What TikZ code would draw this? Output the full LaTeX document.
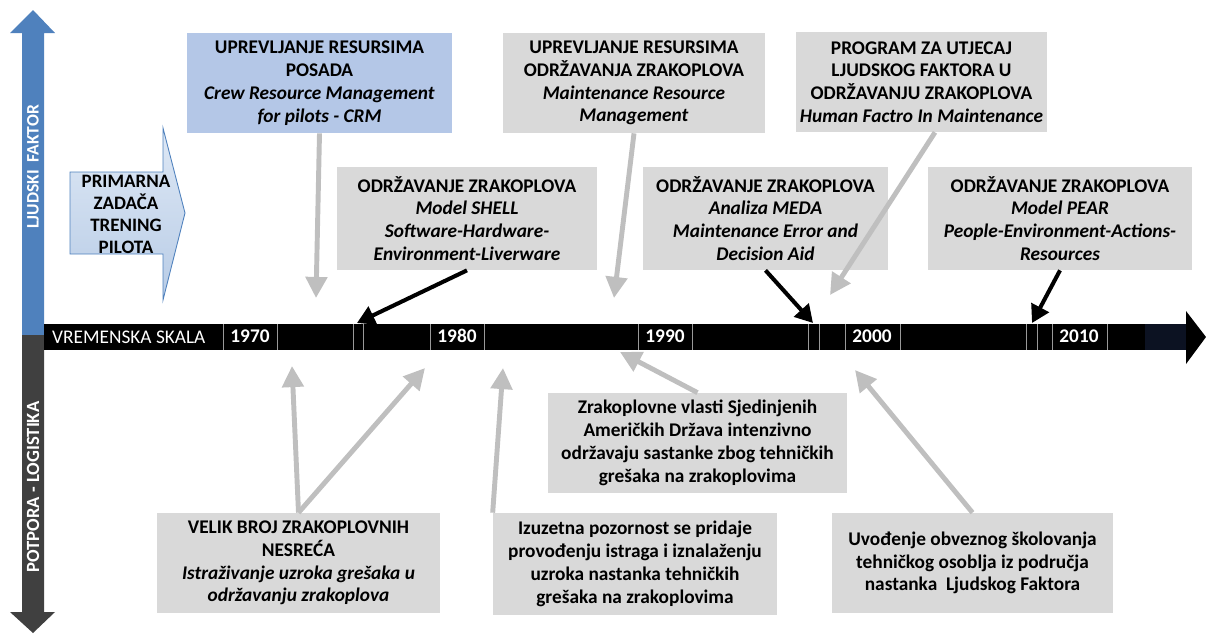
\documentclass[tikz,border=0pt]{standalone}
\usepackage{fontspec}
\setmainfont{Carlito}[Numbers=Lining]
\usetikzlibrary{arrows.meta}
\definecolor{boxgrey}{RGB}{217,217,217}
\definecolor{crmblue}{RGB}{180,199,231}
\definecolor{arrowgrey}{RGB}{191,191,191}
\definecolor{axisblue}{RGB}{79,129,189}
\definecolor{axisdark}{RGB}{64,64,64}
\definecolor{primtop}{RGB}{222,232,245}
\definecolor{primbottom}{RGB}{184,204,230}
\definecolor{barend}{RGB}{12,18,34}

\tikzset{
  greybox/.style={fill=boxgrey, align=center, inner sep=2pt,
    font=\bfseries\fontsize{11}{13}\selectfont},
  bluebox/.style={greybox, fill=crmblue},
  greyarrow/.style={draw=arrowgrey, line width=2.8pt,
    -{Triangle[length=12pt,width=12pt]}},
  blackarrow/.style={draw=black, line width=2.3pt,
    -{Triangle[length=10pt,width=11pt]}},
  yearlabel/.style={text=white, text height=1.6ex, text depth=0.2ex,
    font=\bfseries\fontsize{11}{12}\selectfont},
  divider/.style={draw=black!40, line width=0.5pt}
}

\begin{document}
\begin{tikzpicture}[x=0.02cm, y=-0.02cm]
	\useasboundingbox (0,0) rectangle (1206,633);

	% vertical axis
	\fill[axisblue] (22,337) -- (22,33) -- (10,33) -- (33,10) -- (55,33) -- (44,33) -- (44,337) -- cycle;
	\fill[axisdark] (22,335) -- (22,612) -- (10,612) -- (33,633) -- (55,612) -- (44,612) -- (44,335) -- cycle;
	\node[rotate=90, text=white, font=\bfseries\fontsize{10}{12}\selectfont] (hf) at (33,167) {LJUDSKI~~FAKTOR};
	\node[rotate=90, text=white, font=\bfseries\fontsize{10.6}{12}\selectfont] (pl) at (33,487) {POTPORA - LOGISTIKA};

	% time scale
	\fill[black] (44,324) rectangle (1188,350);
	\fill[barend] (1145,324) rectangle (1188,350);
	\fill[black] (1186,311) -- (1206,337) -- (1186,364) -- cycle;
	\foreach \xx in {223,277,353,363,430,484,638,692,808,819,845,900,1026,1037,1052,1107}{
		\draw[divider] (\xx,324) -- (\xx,350);
	}
	\node[anchor=west, text=white, font=\fontsize{11}{12}\selectfont] (scale) at (46,337) {VREMENSKA SKALA};
	\foreach \yr/\xx in {1970/250, 1980/457, 1990/665, 2000/872, 2010/1079}{
		\node[yearlabel] (y\yr) at (\xx,337) {\yr};
	}

	% primary task arrow
	\draw[axisblue, line width=0.5pt, top color=primtop, bottom color=primbottom]
		(70,172) -- (163,172) -- (163,128) -- (185,213) -- (163,300) -- (163,254) -- (70,254) -- cycle;
	\node[align=center, font=\bfseries\fontsize{10.8}{12.5}\selectfont] (prim) at (126,214)
		{PRIMARNA\\ZADAČA\\TRENING\\PILOTA};

	% upper boxes
	\node[bluebox, minimum width=5.3cm, minimum height=2cm] (crm) at (319.5,83)
		{UPREVLJANJE RESURSIMA\\POSADA\\\textit{Crew Resource Management}\\\textit{for pilots - CRM}};
	\node[greybox, minimum width=5.24cm, minimum height=2cm] (mrm) at (634,83)
		{UPREVLJANJE RESURSIMA\\ODRŽAVANJA ZRAKOPLOVA\\\textit{Maintenance Resource}\\\textit{Management}};
	\node[greybox, minimum width=5.02cm, minimum height=2cm] (hfim) at (921.5,82)
		{PROGRAM ZA UTJECAJ\\LJUDSKOG FAKTORA U\\ODRŽAVANJU ZRAKOPLOVA\\\textit{Human Factro In Maintenance}};
	\node[greybox, minimum width=5.2cm, minimum height=2.06cm] (shell) at (467,218.5)
		{ODRŽAVANJE ZRAKOPLOVA\\\textit{Model SHELL}\\\textit{Software-Hardware-}\\\textit{Environment-Liverware}};
	\node[greybox, minimum width=4.9cm, minimum height=2.06cm] (meda) at (765.5,218.5)
		{ODRŽAVANJE ZRAKOPLOVA\\\textit{Analiza MEDA}\\\textit{Maintenance Error and}\\\textit{Decision Aid}};
	\node[greybox, minimum width=5.28cm, minimum height=2.06cm] (pear) at (1060,218.5)
		{ODRŽAVANJE ZRAKOPLOVA\\\textit{Model PEAR}\\\textit{People-Environment-Actions-}\\\textit{Resources}};

	% lower boxes
	\node[greybox, minimum width=5.66cm, minimum height=2cm] (velik) at (298.5,563)
		{VELIK BROJ ZRAKOPLOVNIH\\NESREĆA\\\textit{Istraživanje uzroka grešaka u}\\\textit{održavanju zrakoplova}};
	\node[greybox, minimum width=5.98cm, minimum height=2cm] (zrak) at (697.5,443)
		{Zrakoplovne vlasti Sjedinjenih\\Američkih Država intenzivno\\održavaju sastanke zbog tehničkih\\grešaka na zrakoplovima};
	\node[greybox, minimum width=5.68cm, minimum height=2.04cm] (izu) at (635,564)
		{Izuzetna pozornost se pridaje\\provođenju istraga i iznalaženju\\uzroka nastanka tehničkih\\grešaka na zrakoplovima};
	\node[greybox, minimum width=5.62cm, minimum height=2cm] (uvo) at (972.5,563)
		{Uvođenje obveznog školovanja\\tehničkog osoblja iz područja\\nastanka~~Ljudskog Faktora};

	% arrow ends on the time scale
	\coordinate (t1) at (316,298);
	\coordinate (t2) at (614,298);
	\coordinate (t3) at (830,295);
	\coordinate (t4) at (620,352);
	\coordinate (t5) at (292,366);
	\coordinate (t6) at (425,368);
	\coordinate (t7) at (503,368);
	\coordinate (t8) at (855,370);
	\coordinate (b1) at (357,323);
	\coordinate (b2) at (813,323);
	\coordinate (b3) at (1032,323);

	\draw[greyarrow] (crm.south) -- (t1);
	\draw[greyarrow] (mrm.south) -- (t2);
	\draw[greyarrow] (hfim.-75) -- (t3);
	\draw[greyarrow] (zrak.north) -- (t4);
	\draw[greyarrow] (velik.north) -- (t5);
	\draw[greyarrow] (velik.north) -- (t6);
	\draw[greyarrow] (izu.north west) -- (t7);
	\draw[greyarrow] (uvo.north) -- (t8);
	\draw[blackarrow] (shell.south) -- (b1);
	\draw[blackarrow] (meda.south) -- (b2);
	\draw[blackarrow] (pear.south) -- (b3);
\end{tikzpicture}
\end{document}
